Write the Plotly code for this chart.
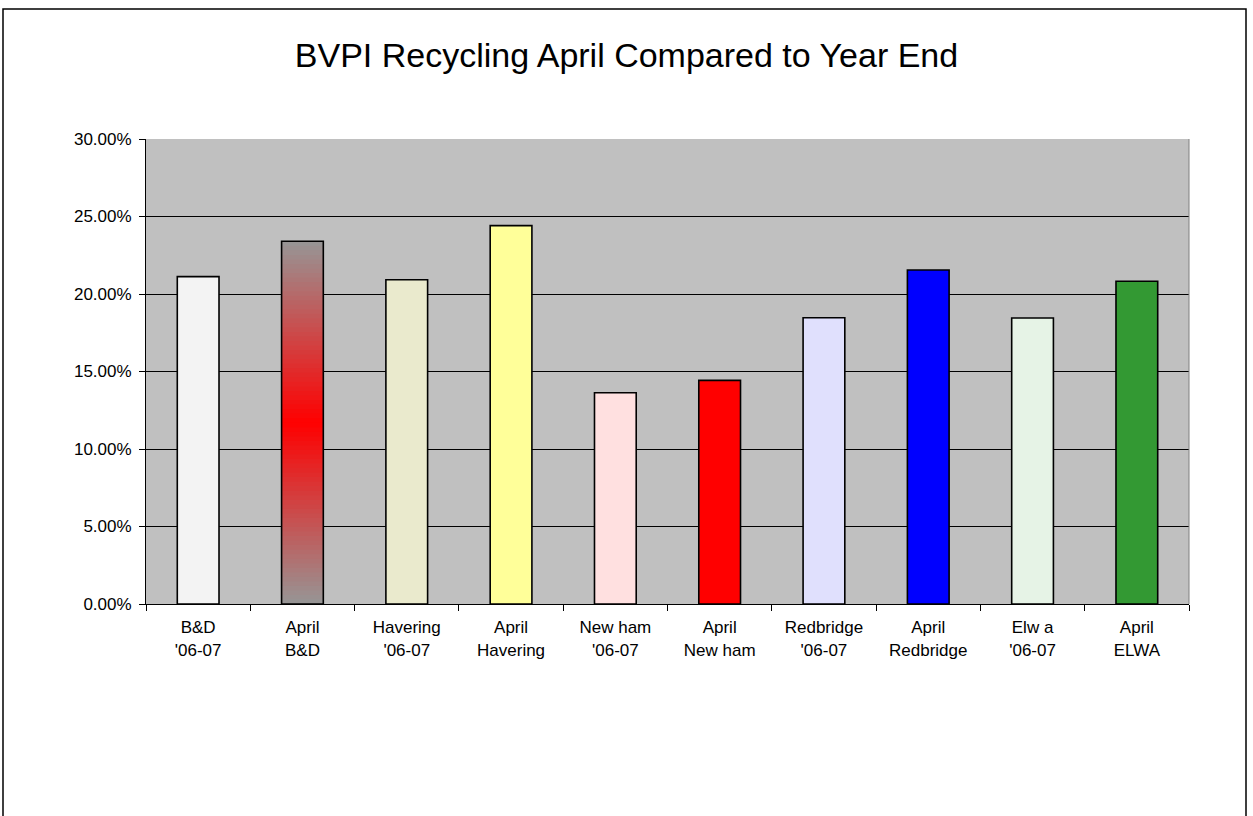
import plotly.graph_objects as go

categories = ["B&D<br>'06-07", "April<br>B&D", "Havering<br>'06-07", "April<br>Havering",
              "New ham<br>'06-07", "April<br>New ham", "Redbridge<br>'06-07", "April<br>Redbridge",
              "Elw a<br>'06-07", "April<br>ELWA"]
values = [0.2112, 0.2340, 0.2092, 0.2441, 0.1363, 0.1443, 0.1847, 0.2155, 0.1845, 0.2082]
fill_colors = ["#f3f3f3", "rgba(0,0,0,0)", "#eaeacd", "#ffff99", "#ffe0e0",
               "#ff0000", "#e0e0fd", "#0000ff", "#e6f3e6", "#339933"]
gradient_index = 1
gradient_edge = (150, 150, 150)
gradient_mid = (255, 0, 0)

FONT = "Liberation Sans, Arial, sans-serif"

fig = go.Figure()

fig.add_trace(go.Bar(
    x=categories, y=values,
    marker=dict(color=fill_colors, line=dict(width=0)),
    hoverinfo="skip", showlegend=False,
))

# vertical centre gradient for the "April B&D" bar, built from stacked segments
N = 80
v = values[gradient_index]
seg_x, seg_y, seg_base, seg_col = [], [], [], []
for i in range(N):
    t = abs((i + 0.5) - N / 2) / (N / 2)
    c = tuple(int(round(gradient_mid[k] * (1 - t) + gradient_edge[k] * t)) for k in range(3))
    seg_x.append(categories[gradient_index])
    h = v / N * (2.0 if i < N - 1 else 1.0)
    seg_y.append(h)
    seg_base.append(v * i / N)
    seg_col.append("rgb(%d,%d,%d)" % c)
fig.add_trace(go.Bar(
    x=seg_x, y=seg_y, base=seg_base,
    marker=dict(color=seg_col, line=dict(width=0)),
    hoverinfo="skip", showlegend=False,
))

# outlines
fig.add_trace(go.Bar(
    x=categories, y=values,
    marker=dict(color="rgba(0,0,0,0)", line=dict(color="#000000", width=1.6)),
    hoverinfo="skip", showlegend=False,
))

L, R, T, B = 146, 1189, 139, 604
W, H = 1253, 816
pw, ph = R - L, B - T

fig.update_layout(
    width=W, height=H,
    margin=dict(l=L, r=W - R, t=T, b=H - B),
    paper_bgcolor="white",
    plot_bgcolor="#c0c0c0",
    barmode="overlay",
    bargap=0.6,
    font=dict(family=FONT, size=17, color="#000000"),
    title=dict(text="BVPI Recycling April Compared to Year End",
               font=dict(family=FONT, size=34, color="#000000"),
               x=0.5, xref="container", xanchor="center",
               y=1 - 55 / H, yref="container", yanchor="middle"),
    xaxis=dict(type="category", showline=True, linecolor="#000000", linewidth=1,
               ticks="outside", tickson="boundaries", ticklen=6, tickcolor="#000000",
               showgrid=False, tickfont=dict(family=FONT, size=17),
               ticklabelstandoff=8),
    yaxis=dict(range=[0, 0.30], dtick=0.05, tickformat=".2%",
               showline=True, linecolor="#000000", linewidth=1,
               ticks="outside", ticklen=6, tickcolor="#000000",
               showgrid=True, gridcolor="#000000", gridwidth=1, zeroline=False,
               tickfont=dict(family=FONT, size=17), ticklabelstandoff=4),
    shapes=[
        dict(type="line", xref="paper", yref="paper", x0=1, x1=1, y0=0, y1=1,
             line=dict(color="#808080", width=1)),
        dict(type="rect", xref="paper", yref="paper",
             x0=(3 - L) / pw, x1=(1246 - L) / pw,
             y0=(B - 830) / ph, y1=(B - 9) / ph,
             line=dict(color="#000000", width=1.5), layer="below"),
    ],
)

fig.write_html("out.html")
